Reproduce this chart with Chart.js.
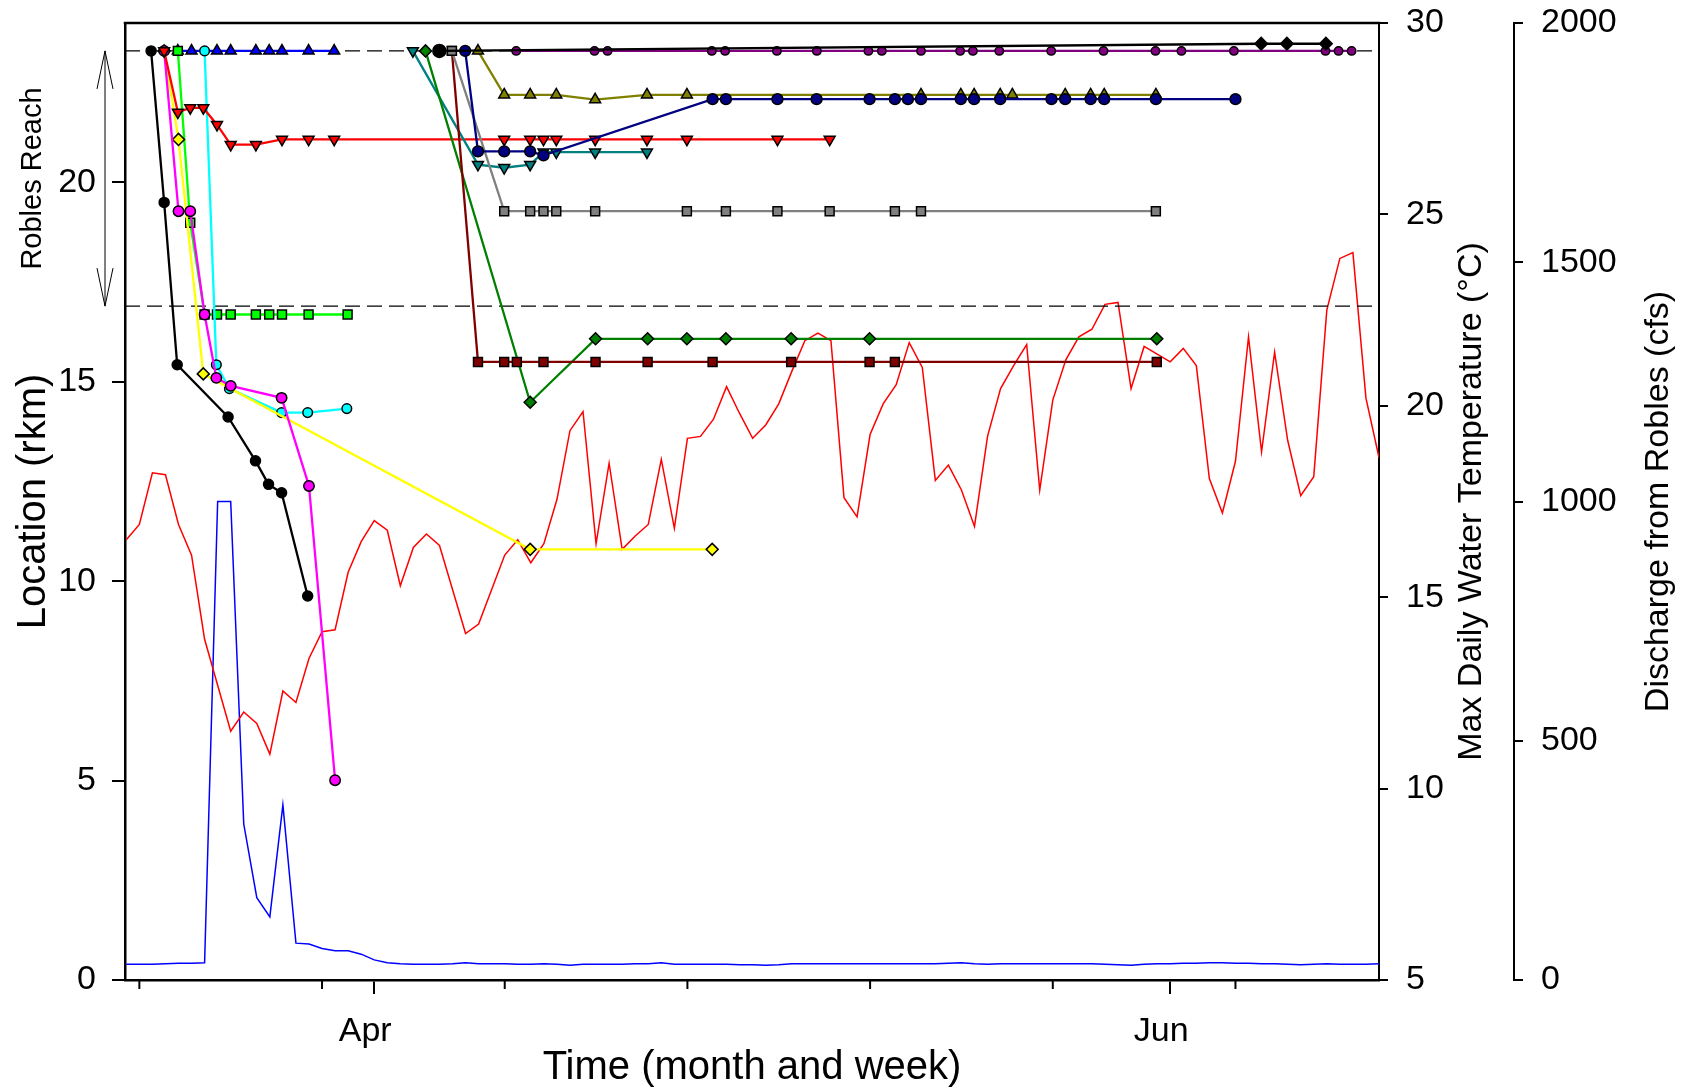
<!DOCTYPE html>
<html>
<head>
    <title>Robles Reach tracks</title>
    <style>
        body { margin: 0; background: #fff; }
        .chart-container { width: 1700px; height: 1092px; }
    </style>
    <script src="https://cdn.jsdelivr.net/npm/chart.js"></script>
</head>
<body>
    <div class="chart-container">
        <canvas id="chart"></canvas>
    </div>
    <script>
        // time is in days from 1 April (negative = March)
        const envFirstDay = -19;
        const maxTemp = [
            16.5, 16.9, 18.25, 18.2, 16.9, 16.1, 13.9, 12.7, 11.5, 12.0,
            11.7, 10.9, 12.55, 12.25, 13.4, 14.1, 14.15, 15.65, 16.45, 17.0,
            16.75, 15.3, 16.3, 16.65, 16.35, 15.2, 14.05, 14.3, 15.2, 16.1,
            16.5, 15.9, 16.4, 17.55, 19.35, 19.85, 16.4, 18.5, 16.25, 16.6,
            16.9, 18.6, 16.8, 19.15, 19.2, 19.65, 20.5, 19.8, 19.15, 19.5,
            20.05, 20.9, 21.7, 21.9, 21.7, 17.6, 17.1, 19.25, 20.05, 20.55,
            21.65, 21.0, 18.05, 18.45, 17.8, 16.85, 19.2, 20.45, 21.05, 21.6,
            17.8, 20.15, 21.2, 21.8, 22.0, 22.65, 22.7, 20.45, 21.55, 21.35,
            21.15, 21.5, 21.05, 18.1, 17.2, 18.55, 21.8, 18.8, 21.4, 19.1,
            17.65, 18.15, 22.5, 23.85, 24.0, 20.2, 18.65
        ];
        const discharge = [
            33, 33, 33, 34, 35, 35, 36, 1000, 1000, 326,
            172, 132, 366, 77, 75, 66, 61, 61, 54, 42,
            36, 34, 33, 33, 33, 34, 36, 34, 34, 34,
            33, 33, 34, 33, 31, 33, 33, 33, 33, 34,
            34, 36, 33, 33, 33, 33, 33, 32, 32, 31,
            32, 34, 34, 34, 34, 34, 34, 34, 34, 34,
            34, 34, 34, 35, 36, 34, 33, 34, 34, 34,
            34, 34, 34, 34, 34, 33, 32, 31, 33, 34,
            34, 35, 35, 36, 36, 35, 35, 34, 34, 33,
            32, 33, 34, 33, 33, 33, 34
        ];

        const reachBounds = [23.3, 16.9];
        const minorTickDays = [-18, -4, 10, 24, 38, 52, 66];
        const monthTickDays = [0, 61];
        const monthTickLabels = ['Apr', 'Jun'];
        const rkmTicks = [0, 5, 10, 15, 20];
        const tempTicks = [5, 10, 15, 20, 25, 30];
        const flowTicks = [0, 500, 1000, 1500, 2000];

        // fish tracks: day, location (rkm)
        const blackDays = [-17.1, -16.1, -15.1, -11.2, -9.1, -8.1, -7.1, -5.1];
        const blackRkm = [23.3, 19.5, 15.43, 14.12, 13.02, 12.43, 12.22, 9.63];
        const magentaDays = [-16.1, -15.0, -14.1, -13.0, -12.1, -11.0, -7.1, -5.0, -3.0];
        const magentaRkm = [23.3, 19.28, 19.28, 16.69, 15.1, 14.9, 14.6, 12.39, 5.01];
        const yellowDays = [-16.1, -15.0, -13.1, 11.95, 25.9];
        const yellowRkm = [23.3, 21.08, 15.2, 10.8, 10.8];
        const limeDays = [-15.05, -14.1, -13.0, -12.05, -11.0, -9.07, -8.05, -7.07, -5.03, -2.04];
        const limeRkm = [23.3, 18.99, 16.69, 16.69, 16.69, 16.69, 16.69, 16.69, 16.69, 16.69];
        const blueDays = [-15.05, -14.0, -12.05, -11.0, -9.07, -8.05, -7.07, -5.03, -3.07];
        const blueRkm = [23.3, 23.3, 23.3, 23.3, 23.3, 23.3, 23.3, 23.3, 23.3];
        const cyanDays = [-13.0, -12.1, -11.1, -7.1, -5.1, -2.1];
        const cyanRkm = [23.3, 15.43, 14.83, 14.23, 14.23, 14.33];
        const redDays = [-16.1, -15.05, -14.1, -13.1, -12.05, -11.0, -9.07, -7.07, -5.03, -3.07,
            9.96, 11.95, 12.97, 13.95, 16.93, 20.9, 23.96, 30.9, 34.9];
        const redRkm = [23.3, 21.76, 21.87, 21.87, 21.45, 20.95, 20.95, 21.08, 21.08, 21.08,
            21.08, 21.08, 21.08, 21.08, 21.08, 21.08, 21.08, 21.08, 21.08];
        const tealDays = [2.96, 7.95, 9.96, 11.95, 12.97, 13.95, 16.93, 20.9];
        const tealRkm = [23.3, 20.45, 20.37, 20.45, 20.76, 20.76, 20.76, 20.76];
        const greenDays = [3.93, 11.95, 16.96, 20.95, 23.96, 26.95, 31.95, 37.96, 59.97];
        const greenRkm = [23.3, 14.49, 16.08, 16.08, 16.08, 16.08, 16.08, 16.08, 16.08];
        const maroonDays = [5.95, 7.95, 9.96, 10.93, 12.97, 16.96, 20.95, 25.93, 31.95, 37.96, 39.9, 59.97];
        const maroonRkm = [23.3, 15.5, 15.5, 15.5, 15.5, 15.5, 15.5, 15.5, 15.5, 15.5, 15.5, 15.5];
        const greyDays = [5.95, 9.96, 11.95, 12.97, 13.95, 16.93, 23.96, 26.95, 30.9, 34.9, 39.9, 41.9, 59.9];
        const greyRkm = [23.3, 19.28, 19.28, 19.28, 19.28, 19.28, 19.28, 19.28, 19.28, 19.28, 19.28, 19.28, 19.28];
        const navyDays = [6.97, 7.95, 9.96, 11.95, 12.97, 25.93, 26.95, 30.9, 33.9, 37.96, 39.9, 40.9,
            41.9, 44.95, 45.97, 47.97, 51.9, 52.95, 54.9, 55.94, 59.9, 66.0];
        const navyRkm = [23.3, 20.78, 20.78, 20.78, 20.68, 22.09, 22.09, 22.09, 22.09, 22.09, 22.09, 22.09,
            22.09, 22.09, 22.09, 22.09, 22.09, 22.09, 22.09, 22.09, 22.09, 22.09];
        const oliveDays = [7.95, 9.96, 11.95, 13.95, 16.93, 20.9, 23.96, 41.9, 44.95, 45.97, 47.97, 48.9,
            52.95, 54.9, 55.94, 59.9];
        const oliveRkm = [23.3, 22.2, 22.2, 22.2, 22.08, 22.2, 22.2, 22.2, 22.2, 22.2, 22.2, 22.2,
            22.2, 22.2, 22.2, 22.2];
        const purpleDays = [10.88, 16.88, 17.88, 25.87, 26.89, 30.86, 33.92, 37.87, 38.9, 41.9, 44.9,
            45.88, 47.9, 51.88, 55.89, 59.87, 61.86, 65.88, 72.9, 73.9, 74.9];
        const purpleRkm = [23.3, 23.3, 23.3, 23.3, 23.3, 23.3, 23.3, 23.3, 23.3, 23.3, 23.3,
            23.3, 23.3, 23.3, 23.3, 23.3, 23.3, 23.3, 23.3, 23.3, 23.3];
        const blackDiamondDays = [4.99, 67.97, 69.94, 72.93];
        const blackDiamondRkm = [23.3, 23.48, 23.48, 23.48];

        const xMin = -19.1;
        const xMax = 77;
        const font = "'Liberation Sans', Arial, sans-serif";

        function track(days, rkm, color, style, radius, rotation) {
            return {
                data: days.map((d, i) => ({ x: d, y: rkm[i] })),
                yAxisID: 'y',
                borderColor: color,
                backgroundColor: color,
                borderWidth: 2.3,
                pointStyle: style,
                pointRadius: radius,
                pointRotation: rotation || 0,
                pointBorderColor: '#000',
                pointBorderWidth: 1.5,
                pointBackgroundColor: color
            };
        }

        function refLine(value) {
            return {
                data: [{ x: xMin, y: value }, { x: xMax, y: value }],
                yAxisID: 'y',
                borderColor: '#000',
                borderWidth: 1.3,
                borderDash: [15, 7],
                pointRadius: 0,
                order: 5
            };
        }

        const blackDiamond = track(blackDiamondDays, blackDiamondRkm, '#000000', 'rectRot', 6.3);
        blackDiamond.pointStyle = ['circle', 'rectRot', 'rectRot', 'rectRot'];
        blackDiamond.pointRadius = [6.5, 6.3, 6.3, 6.3];

        const datasets = [
            blackDiamond,
            track(purpleDays, purpleRkm, '#800080', 'circle', 4.2),
            track(navyDays, navyRkm, '#000080', 'circle', 5.4),
            track(oliveDays, oliveRkm, '#808000', 'triangle', 6.3),
            track(greyDays, greyRkm, '#808080', 'rect', 6.3),
            track(maroonDays, maroonRkm, '#800000', 'rect', 6.3),
            track(greenDays, greenRkm, '#008000', 'rectRot', 6),
            track(tealDays, tealRkm, '#008080', 'triangle', 6.3, 180),
            track(redDays, redRkm, '#ff0000', 'triangle', 6.3, 180),
            track(magentaDays, magentaRkm, '#ff00ff', 'circle', 5.2),
            track(blackDays, blackRkm, '#000000', 'circle', 5),
            track(yellowDays, yellowRkm, '#ffff00', 'rectRot', 6),
            track(cyanDays, cyanRkm, '#00ffff', 'circle', 4.8),
            track(limeDays, limeRkm, '#00ff00', 'rect', 6.3),
            track(blueDays, blueRkm, '#0000ff', 'triangle', 6.3),
            refLine(reachBounds[0]),
            refLine(reachBounds[1]),
            {
                data: maxTemp.map((v, i) => ({ x: envFirstDay + i, y: v })),
                yAxisID: 'yTemp',
                borderColor: '#ff0000',
                borderWidth: 1.5,
                pointRadius: 0,
                order: 10
            },
            {
                data: discharge.map((v, i) => ({ x: envFirstDay + i, y: v })),
                yAxisID: 'yFlow',
                borderColor: '#0000ff',
                borderWidth: 1.5,
                pointRadius: 0,
                order: 10
            }
        ];

        function setTicks(values) {
            return scale => { scale.ticks = values.map(v => ({ value: v })); };
        }

        function fitWidth(w) {
            return s => { s.width = w; s.paddingTop = 0; s.paddingBottom = 0; };
        }

        const extras = {
            id: 'extras',
            afterDraw(chart) {
                const { ctx, chartArea: a, scales } = chart;
                ctx.save();
                ctx.strokeStyle = '#000';
                ctx.fillStyle = '#000';

                // top frame
                ctx.lineWidth = 2.5;
                ctx.beginPath();
                ctx.moveTo(a.left - 1.25, a.top);
                ctx.lineTo(a.right + 1, a.top);
                ctx.stroke();

                // minor time ticks
                ctx.lineWidth = 2;
                minorTickDays.forEach(d => {
                    const px = scales.x.getPixelForValue(d);
                    ctx.beginPath();
                    ctx.moveTo(px, a.bottom);
                    ctx.lineTo(px, a.bottom + 9);
                    ctx.stroke();
                });

                // right axis titles (read bottom to top)
                ctx.font = '34px ' + font;
                ctx.textAlign = 'center';
                ctx.textBaseline = 'middle';
                const midY = (a.top + a.bottom) / 2;
                [[scales.yTemp.right - 42, 'Max Daily Water Temperature (°C)'],
                 [scales.yFlow.right - 41, 'Discharge from Robles (cfs)']].forEach(([tx, text]) => {
                    ctx.save();
                    ctx.translate(tx, midY);
                    ctx.rotate(-Math.PI / 2);
                    ctx.fillText(text, 0, 0);
                    ctx.restore();
                });

                // Robles Reach arrow
                const y1 = scales.y.getPixelForValue(reachBounds[0]);
                const y2 = scales.y.getPixelForValue(reachBounds[1]);
                const ax = a.left - 20;
                ctx.lineWidth = 1;
                ctx.beginPath();
                ctx.moveTo(ax, y1);
                ctx.lineTo(ax, y2);
                ctx.moveTo(ax - 8, y1 + 38);
                ctx.lineTo(ax, y1);
                ctx.lineTo(ax + 8, y1 + 38);
                ctx.moveTo(ax - 8, y2 - 38);
                ctx.lineTo(ax, y2);
                ctx.lineTo(ax + 8, y2 - 38);
                ctx.stroke();

                ctx.font = '29px ' + font;
                ctx.save();
                ctx.translate(a.left - 92, (y1 + y2) / 2);
                ctx.rotate(-Math.PI / 2);
                ctx.fillText('Robles Reach', 0, 0);
                ctx.restore();
                ctx.restore();
            }
        };

        Chart.defaults.font.family = font;
        Chart.defaults.color = '#000';

        new Chart(document.getElementById('chart'), {
            type: 'line',
            data: { datasets: datasets },
            plugins: [extras],
            options: {
                responsive: true,
                maintainAspectRatio: false,
                animation: false,
                layout: { padding: { top: 23 } },
                plugins: { legend: { display: false }, tooltip: { enabled: false } },
                elements: { line: { tension: 0 } },
                scales: {
                    x: {
                        type: 'linear',
                        position: 'bottom',
                        min: xMin,
                        max: xMax,
                        afterBuildTicks: setTicks(minorTickDays.concat(monthTickDays).sort((p, q) => p - q)),
                        afterFit: s => { s.height = 112; s.paddingLeft = 0; s.paddingRight = 0; },
                        ticks: {
                            autoSkip: false,
                            maxRotation: 0,
                            padding: 17,
                            labelOffset: -9,
                            font: { size: 34 },
                            callback: v => {
                                const i = monthTickDays.indexOf(v);
                                return i >= 0 ? monthTickLabels[i] : '';
                            }
                        },
                        grid: {
                            drawOnChartArea: false,
                            tickLength: 14,
                            lineWidth: 2,
                            color: c => (c.tick && monthTickDays.includes(c.tick.value)) ? '#000' : 'rgba(0,0,0,0)'
                        },
                        border: { display: true, color: '#000', width: 2.5 },
                        title: {
                            display: true,
                            text: 'Time (month and week)',
                            font: { size: 40 },
                            padding: { top: 0, bottom: 0 }
                        }
                    },
                    y: {
                        type: 'linear',
                        position: 'left',
                        min: 0,
                        max: 24,
                        afterBuildTicks: setTicks(rkmTicks),
                        afterFit: fitWidth(125),
                        ticks: { padding: 16, font: { size: 34 } },
                        grid: { drawOnChartArea: false, tickLength: 13, lineWidth: 2, color: '#000' },
                        border: { display: true, color: '#000', width: 2.5 },
                        title: {
                            display: true,
                            text: 'Location (rkm)',
                            font: { size: 40 },
                            padding: { top: 10, bottom: 0 }
                        }
                    },
                    yTemp: {
                        type: 'linear',
                        position: 'right',
                        weight: 0,
                        min: 5,
                        max: 30,
                        afterBuildTicks: setTicks(tempTicks),
                        afterFit: fitWidth(135),
                        ticks: { padding: 18, font: { size: 34 }, callback: v => String(v) },
                        grid: { drawOnChartArea: false, tickLength: 9, lineWidth: 2, color: '#000' },
                        border: { display: true, color: '#000', width: 2 }
                    },
                    yFlow: {
                        type: 'linear',
                        position: 'right',
                        weight: 1,
                        min: 0,
                        max: 2000,
                        afterBuildTicks: setTicks(flowTicks),
                        afterFit: fitWidth(186),
                        ticks: { padding: 18, font: { size: 34 }, callback: v => String(v) },
                        grid: { drawOnChartArea: false, tickLength: 9, lineWidth: 2, color: '#000' },
                        border: { display: true, color: '#000', width: 2 }
                    }
                }
            }
        });
    </script>
</body>
</html>
